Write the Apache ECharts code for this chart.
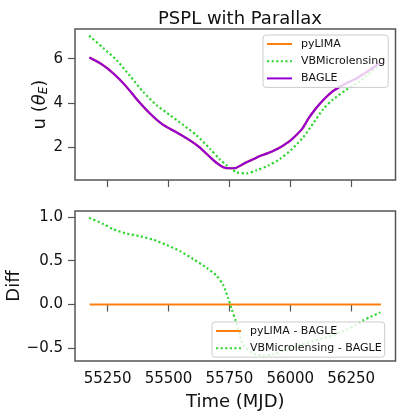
<!DOCTYPE html>
<html lang="en">
<head>
    <meta charset="UTF-8">
    <title>PSPL with Parallax</title>
    <script src="https://cdn.jsdelivr.net/npm/echarts@6/dist/echarts.min.js"></script>
    <style>
        html, body { margin: 0; padding: 0; background: #fff; }
        #main { width: 400px; height: 415px; }
    </style>
</head>
<body>
<div id="main"></div>
<script>
    // ---- data ----
    // top panel: u(theta_E) vs time, BAGLE (pyLIMA sits right under it)
    const bagleT = [55175, 55225, 55275, 55325, 55375, 55425, 55475, 55525, 55575, 55625,
        55675, 55700, 55725, 55750, 55775, 55800, 55825, 55850, 55875, 55900,
        55925, 55950, 55975, 56000, 56025, 56050, 56075, 56100, 56125, 56150,
        56175, 56200, 56225, 56250, 56275, 56300, 56325, 56350, 56370];
    const bagleU = [6.05, 5.75, 5.32, 4.76, 4.10, 3.51, 3.03, 2.72, 2.40, 2.02,
        1.51, 1.27, 1.10, 1.05, 1.06, 1.20, 1.34, 1.47, 1.60, 1.70,
        1.81, 1.94, 2.11, 2.30, 2.55, 2.85, 3.30, 3.68, 4.01, 4.29,
        4.53, 4.71, 4.86, 4.99, 5.13, 5.30, 5.48, 5.67, 5.82];
    const pylimaU = bagleU.slice(); // identical to BAGLE (diff = 0)

    const vbmT = [55174, 55232, 55287, 55342, 55396, 55451, 55506, 55560, 55615, 55670,
        55711, 55738, 55752, 55779, 55820, 55862, 55909, 55957, 56005, 56053,
        56094, 56135, 56176, 56231, 56286, 56354, 56370];
    const vbmU = [7.04, 6.48, 5.93, 5.22, 4.50, 3.90, 3.45, 3.01, 2.54, 1.93,
        1.45, 1.19, 1.07, 0.87, 0.82, 0.96, 1.17, 1.46, 1.90, 2.45,
        3.08, 3.71, 4.16, 4.60, 4.98, 5.62, 5.73];

    // bottom panel: differences
    const diffPyT = [55176, 56372];
    const diffPy = [0, 0];

    const diffVbT = [55174, 55232, 55273, 55328, 55383, 55437, 55492, 55547, 55601, 55656,
        55697, 55725, 55745, 55759, 55775, 55790, 55807, 55848, 55889, 55930,
        55980, 56030, 56080, 56130, 56180, 56230, 56270, 56300, 56330, 56370];
    const diffVb = [0.99, 0.92, 0.86, 0.81, 0.78, 0.74, 0.68, 0.61, 0.52, 0.42,
        0.33, 0.22, 0.07, -0.05, -0.18, -0.33, -0.46, -0.56, -0.58, -0.57,
        -0.52, -0.47, -0.43, -0.39, -0.35, -0.29, -0.23, -0.18, -0.14, -0.09];

    const xTicks = [55250, 55500, 55750, 56000, 56250];
    const uTicks = [2, 4, 6];
    const diffTicks = [-0.5, 0, 0.5, 1.0];

    const pairs = (xs, ys) => xs.map((x, i) => [x, ys[i]]);

    const FONT = 'DejaVu Sans';
    const C_ORANGE = '#ff7f0e';
    const C_GREEN = '#33d633';
    const C_PURPLE = '#9400d3';
    const FRAME = '#555';

    let myChart = echarts.init(document.getElementById('main'));

    const xCommon = {
        type: 'value', min: 55116, max: 56432,
        axisLine: { show: false },
        splitLine: { show: false },
        axisTick: { show: true, inside: false, length: 7, customValues: xTicks,
            lineStyle: { color: FRAME, width: 1.2 } }
    };
    const yTick = { show: true, inside: false, length: 7, lineStyle: { color: FRAME, width: 1.2 } };
    const legendCommon = {
        orient: 'vertical',
        itemWidth: 25, itemHeight: 12, itemGap: 5.2,
        padding: [3, 3, 3, 3],
        backgroundColor: 'rgba(255,255,255,0.8)',
        borderColor: '#ccc', borderWidth: 1, borderRadius: 3,
        itemStyle: { opacity: 0 },
        textStyle: { fontFamily: FONT, fontSize: 11, color: '#111', lineHeight: 12,
            padding: [0, 0, 0, 4] }
    };

    let option = {
        animation: false,
        textStyle: { fontFamily: FONT },
        title: {
            text: 'PSPL with Parallax',
            left: 235, top: 5, textAlign: 'center',
            textStyle: { fontFamily: FONT, fontSize: 18, fontWeight: 'normal', color: '#111' }
        },
        grid: [
            { left: 75, top: 29, right: 4.5, height: 151, show: true, outerBoundsMode: 'none',
              borderColor: FRAME, borderWidth: 1.5, backgroundColor: 'transparent' },
            { left: 75, top: 211, right: 4.5, height: 150, show: true, outerBoundsMode: 'none',
              borderColor: FRAME, borderWidth: 1.5, backgroundColor: 'transparent' }
        ],
        xAxis: [
            Object.assign({ gridIndex: 0, axisLabel: { show: false } }, xCommon),
            Object.assign({ gridIndex: 1,
                axisLabel: { show: true, customValues: xTicks, margin: 11,
                    fontFamily: FONT, fontSize: 15, color: '#111', formatter: v => String(v) },
                name: 'Time (MJD)', nameLocation: 'middle', nameGap: 32, nameMoveOverlap: false,
                nameTextStyle: { fontFamily: FONT, fontSize: 18, color: '#111' }
            }, xCommon)
        ],
        yAxis: [
            {
                gridIndex: 0, type: 'value', min: 0.52, max: 7.34,
                axisLine: { show: false }, splitLine: { show: false },
                axisTick: Object.assign({ customValues: uTicks }, yTick),
                axisLabel: { customValues: uTicks, margin: 12, fontFamily: FONT, fontSize: 15, color: '#111' },
                name: '{a|u (}{t|θ}{s|E}{a|)}', nameLocation: 'middle', nameGap: 25, nameRotate: 90,
                nameMoveOverlap: false,
                nameTextStyle: {
                    rich: {
                        a: { fontFamily: FONT, fontSize: 18, color: '#111' },
                        t: { fontFamily: FONT, fontSize: 18, fontStyle: 'italic', color: '#111' },
                        s: { fontFamily: FONT, fontSize: 12, fontStyle: 'italic', color: '#111',
                             padding: [8, 0, 0, 0] }
                    }
                }
            },
            {
                gridIndex: 1, type: 'value', min: -0.645, max: 1.068,
                axisLine: { show: false }, splitLine: { show: false },
                axisTick: Object.assign({ customValues: diffTicks }, yTick),
                axisLabel: { customValues: diffTicks, margin: 12, fontFamily: FONT, fontSize: 15, color: '#111',
                    formatter: v => v.toFixed(1).replace('-', '\u2212') },
                name: 'Diff', nameLocation: 'middle', nameGap: 52, nameRotate: 90,
                nameMoveOverlap: false,
                nameTextStyle: { fontFamily: FONT, fontSize: 18, color: '#111' }
            }
        ],
        legend: [
            Object.assign({ left: 263, top: 35, data: ['pyLIMA', 'VBMicrolensing', 'BAGLE'] }, legendCommon),
            Object.assign({ left: 212, top: 322, data: ['pyLIMA - BAGLE', 'VBMicrolensing - BAGLE'] }, legendCommon)
        ],
        series: [
            { name: 'pyLIMA', type: 'line', xAxisIndex: 0, yAxisIndex: 0,
              data: pairs(bagleT, pylimaU), symbol: 'none', smooth: 0.25,
              itemStyle: { color: C_ORANGE }, lineStyle: { color: C_ORANGE, width: 2.2 } },
            { name: 'VBMicrolensing', type: 'line', xAxisIndex: 0, yAxisIndex: 0,
              data: pairs(vbmT, vbmU), symbol: 'none', smooth: 0.25,
              itemStyle: { color: C_GREEN },
              lineStyle: { color: C_GREEN, width: 2.2, type: [2.2, 2.4] } },
            { name: 'BAGLE', type: 'line', xAxisIndex: 0, yAxisIndex: 0,
              data: pairs(bagleT, bagleU), symbol: 'none', smooth: 0.25,
              itemStyle: { color: C_PURPLE }, lineStyle: { color: C_PURPLE, width: 2.2 } },
            { name: 'pyLIMA - BAGLE', type: 'line', xAxisIndex: 1, yAxisIndex: 1,
              data: pairs(diffPyT, diffPy), symbol: 'none',
              itemStyle: { color: C_ORANGE }, lineStyle: { color: C_ORANGE, width: 2.2 } },
            { name: 'VBMicrolensing - BAGLE', type: 'line', xAxisIndex: 1, yAxisIndex: 1,
              data: pairs(diffVbT, diffVb), symbol: 'none', smooth: 0.25,
              itemStyle: { color: C_GREEN },
              lineStyle: { color: C_GREEN, width: 2.2, type: [2.2, 2.4] } }
        ]
    };
    myChart.setOption(option);
</script>
</body>
</html>
